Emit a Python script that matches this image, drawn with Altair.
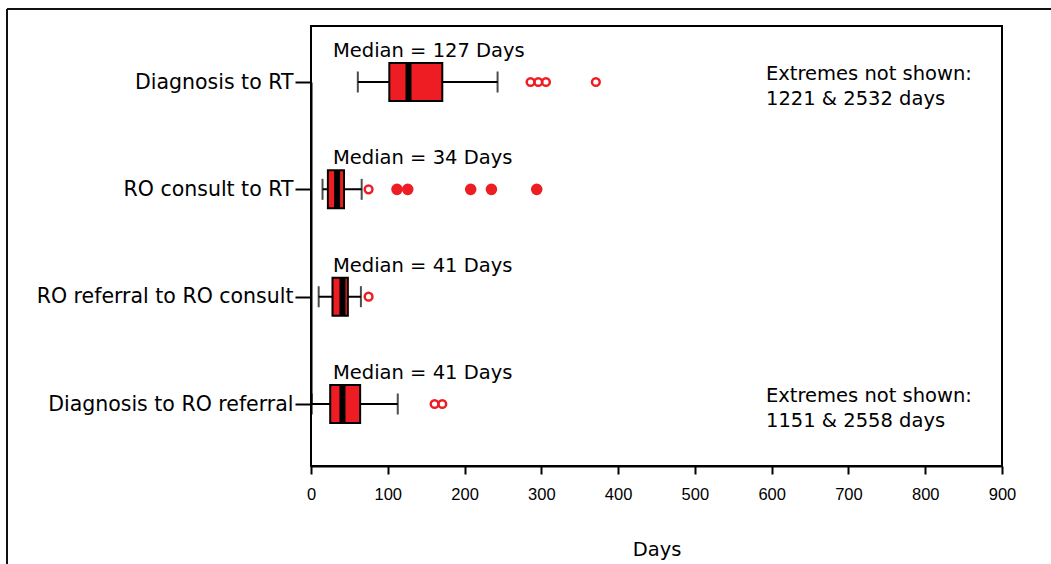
import altair as alt
import pandas as pd

# ---- data ----
categories = ["Diagnosis to RT", "RO consult to RT", "RO referral to RO consult", "Diagnosis to RO referral"]
whisker_low = [61, 15, 10, 1]
q1 = [102, 22, 28, 25]
median = [127, 34, 41, 41]
q3 = [171, 43, 48, 64]
whisker_high = [243, 66, 65, 113]

outlier_cat = ["Diagnosis to RT"] * 4 + ["RO consult to RT"] * 6 + ["RO referral to RO consult"] + ["Diagnosis to RO referral"] * 2
outlier_val = [286, 296, 306, 371, 75, 112, 126, 208, 235, 294, 75, 161, 171]
outlier_filled = [False, False, False, False, False, True, True, True, True, True, False, False, False]

extreme_cat = ["Diagnosis to RT", "Diagnosis to RO referral"]
extreme_text = ["Extremes not shown:\n1221 & 2532 days", "Extremes not shown:\n1151 & 2558 days"]

x_ticks = [0, 100, 200, 300, 400, 500, 600, 700, 800, 900]

RED = "#EE1D23"
FONT = "DejaVu Sans"
NARROW = "Liberation Sans"

box_df = pd.DataFrame({
    "cat": categories, "lo": whisker_low, "q1": q1, "med": median, "q3": q3, "hi": whisker_high,
    "label": [f"Median = {m} Days" for m in median],
})
out_df = pd.DataFrame({"cat": outlier_cat, "val": outlier_val, "filled": outlier_filled})
ext_df = pd.DataFrame({"cat": extreme_cat, "text": extreme_text})

y_enc = alt.Y(
    "cat:N",
    scale=alt.Scale(type="point", domain=categories, range=[56, 378], padding=0),
    axis=alt.Axis(
        title="", labelFont=FONT, labelFontSize=20.5, labelColor="black", labelPadding=2,
        tickSize=16, tickWidth=2, tickColor="black", domainColor="black", domainWidth=2,
        grid=False, labelLimit=400,
    ),
)
x_scale = alt.Scale(domain=[0, 900], nice=False, zero=False)
x_axis = alt.Axis(
    title="Days", values=x_ticks, labelFont=NARROW, labelFontSize=16.5, labelColor="black",
    labelPadding=12, labelFlush=False, tickSize=8, tickWidth=2, tickColor="black", domainColor="black",
    domainWidth=2, grid=False, titleFont=FONT, titleFontSize=19.5, titleFontWeight="normal",
    titleColor="black", titlePadding=38,
)

base = alt.Chart(box_df)

whisker = base.mark_rule(color="black", strokeWidth=2).encode(
    x=alt.X("lo:Q", scale=x_scale, axis=x_axis), x2="hi:Q", y=y_enc
)
caps_lo = base.mark_tick(color="black", thickness=2, size=21, orient="vertical").encode(
    x=alt.X("lo:Q", scale=x_scale, axis=x_axis), y=y_enc
)
caps_hi = base.mark_tick(color="black", thickness=2, size=21, orient="vertical").encode(
    x=alt.X("hi:Q", scale=x_scale, axis=x_axis), y=y_enc
)
box = base.mark_bar(fill=RED, stroke="black", strokeWidth=2, size=38).encode(
    x=alt.X("q1:Q", scale=x_scale, axis=x_axis), x2="q3:Q", y=y_enc
)
med = base.mark_tick(color="black", thickness=6, size=38, orient="vertical", opacity=1).encode(
    x=alt.X("med:Q", scale=x_scale, axis=x_axis), y=y_enc
)
med_lbl = base.mark_text(font=FONT, fontSize=19.5, align="left", baseline="middle", dy=-31, color="black").encode(
    x=alt.value(22), y=y_enc, text="label:N"
)

open_pts = alt.Chart(out_df).transform_filter("!datum.filled").mark_point(
    shape="circle", filled=False, stroke=RED, strokeWidth=2.5, size=60, opacity=1
).encode(x=alt.X("val:Q", scale=x_scale, axis=x_axis), y=y_enc)
filled_pts = alt.Chart(out_df).transform_filter("datum.filled").mark_point(
    shape="circle", filled=True, fill=RED, strokeWidth=0, size=135, opacity=1
).encode(x=alt.X("val:Q", scale=x_scale, axis=x_axis), y=y_enc)

ext_lbl = alt.Chart(ext_df).mark_text(
    font=FONT, fontSize=19.5, align="left", baseline="middle", lineBreak="\n", lineHeight=25, dy=-8, color="black"
).encode(x=alt.value(455), y=y_enc, text="text:N")

frame_left = alt.Chart(box_df).mark_rule(color="#111", strokeWidth=2).encode(
    x=alt.value(-304), y=alt.value(-17), y2=alt.value(560)
)
frame_top = alt.Chart(box_df).mark_rule(color="#111", strokeWidth=2).encode(
    x=alt.value(-304), x2=alt.value(745), y=alt.value(-17)
)

chart = alt.layer(
    frame_left, frame_top, whisker, caps_lo, caps_hi, box, med, open_pts, filled_pts, med_lbl, ext_lbl
).properties(
    width=691, height=440,
    autosize=alt.AutoSizeParams(type="none"),
    padding={"left": 311, "top": 26, "right": 49, "bottom": 98},
    background="white",
).configure_view(stroke="black", strokeWidth=2)

chart.save("out.html", embed_options={"renderer": "svg", "actions": False})
